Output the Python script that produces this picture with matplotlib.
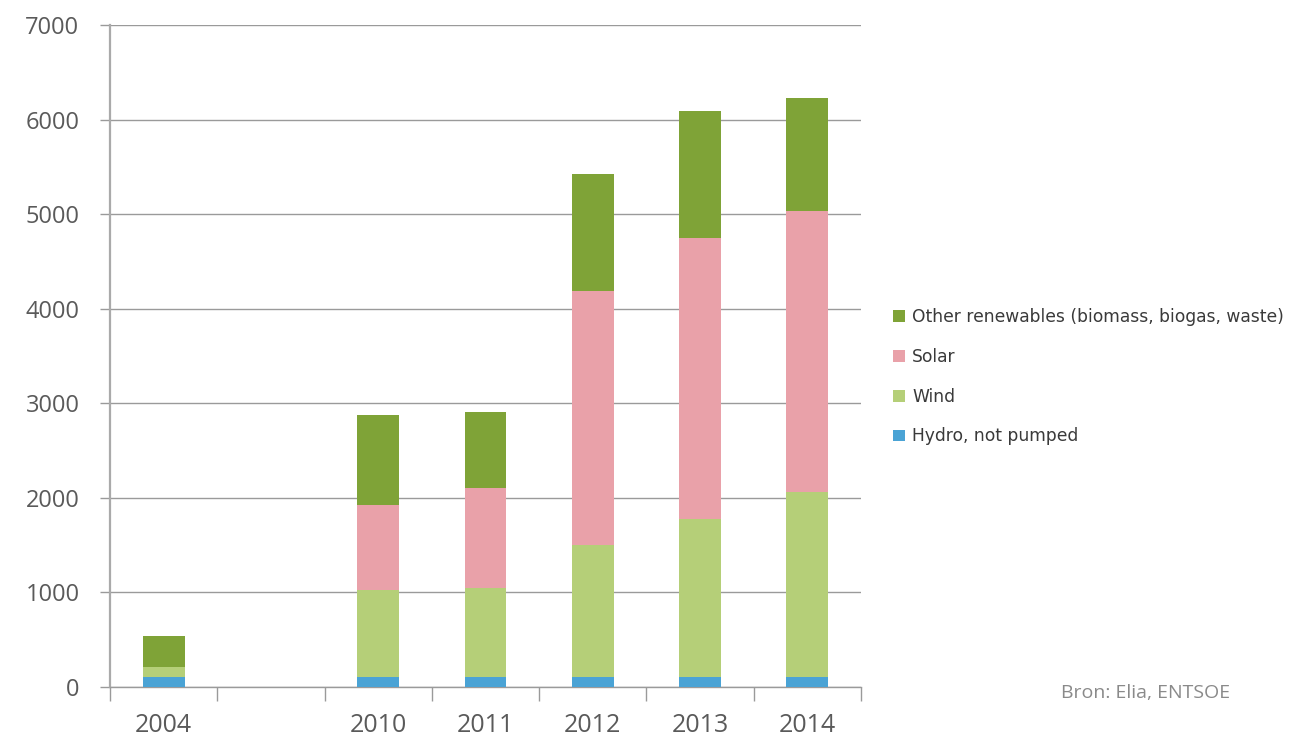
import matplotlib
matplotlib.use("Agg")
import matplotlib.pyplot as plt
from matplotlib.patches import Patch
import numpy as np

years = ["2004", "", "2010", "2011", "2012", "2013", "2014"]
hydro = [110, 0, 110, 110, 110, 110, 110]
wind = [100, 0, 915, 935, 1390, 1665, 1950]
solar = [0, 0, 900, 1060, 2685, 2970, 2970]
other = [330, 0, 950, 800, 1240, 1345, 1195]
series_names = ["Hydro, not pumped", "Wind", "Solar", "Other renewables (biomass, biogas, waste)"]
colors = ["#4aa3d5", "#b5cf78", "#e9a1a9", "#7fa337"]
yticks = [0, 1000, 2000, 3000, 4000, 5000, 6000, 7000]
source = "Bron: Elia, ENTSOE"

plt.rcParams['font.family'] = ['Open Sans', 'DejaVu Sans']

fig = plt.figure(figsize=(13.06, 7.39), dpi=100)
ax = fig.add_axes([110/1306, 1-687/739, (861-110)/1306, (687-25)/739])

x = np.arange(len(years))
bottom = np.zeros(len(years))
data = [hydro, wind, solar, other]
for vals, c in zip(data, colors):
    v = np.array(vals, dtype=float)
    ax.bar(x, v, width=0.39, bottom=bottom, color=c, linewidth=0, zorder=3)
    bottom += v

ax.set_xlim(-0.5, len(years) - 0.5)
ax.set_ylim(0, 7000)
ax.set_yticks(yticks)
ax.set_yticklabels([str(t) for t in yticks])
ax.yaxis.grid(True, color="#9a9a9a", linewidth=1.0, zorder=0)
ax.set_axisbelow(True)

ax.set_xticks(x)
ax.set_xticklabels(years)
ax.set_xticks(np.arange(-0.5, len(years)), minor=True)
ax.tick_params(axis='x', which='major', length=0, pad=19, labelsize=18, labelcolor="#5a5a5a")
ax.tick_params(axis='x', which='minor', length=10, color="#9a9a9a", width=1.0)
ax.tick_params(axis='y', length=7, color="#9a9a9a", width=1.0, pad=15, labelsize=17, labelcolor="#5a5a5a")

for s in ["top", "right"]:
    ax.spines[s].set_visible(False)
ax.spines["left"].set_color("#aaaaaa")
ax.spines["left"].set_linewidth(1.6)
ax.spines["bottom"].set_color("#9a9a9a")
ax.spines["bottom"].set_linewidth(1.0)

handles = [Patch(facecolor=colors[i], edgecolor='none') for i in range(3, -1, -1)]
labels = [series_names[i] for i in range(3, -1, -1)]
fig.legend(handles, labels, loc="upper left", bbox_to_anchor=(878/1306, 1-293/739),
           frameon=False, prop={'family': 'DejaVu Sans', 'size': 12.3}, labelcolor="#3a3a3a",
           handlelength=0.7, handleheight=0.7, handletextpad=0.4, labelspacing=1.27)

fig.text(1230/1306, 1-693/739, source, ha="right", va="center", fontsize=14, color="#8a8a8a")

fig.savefig("out.png", dpi=100)
